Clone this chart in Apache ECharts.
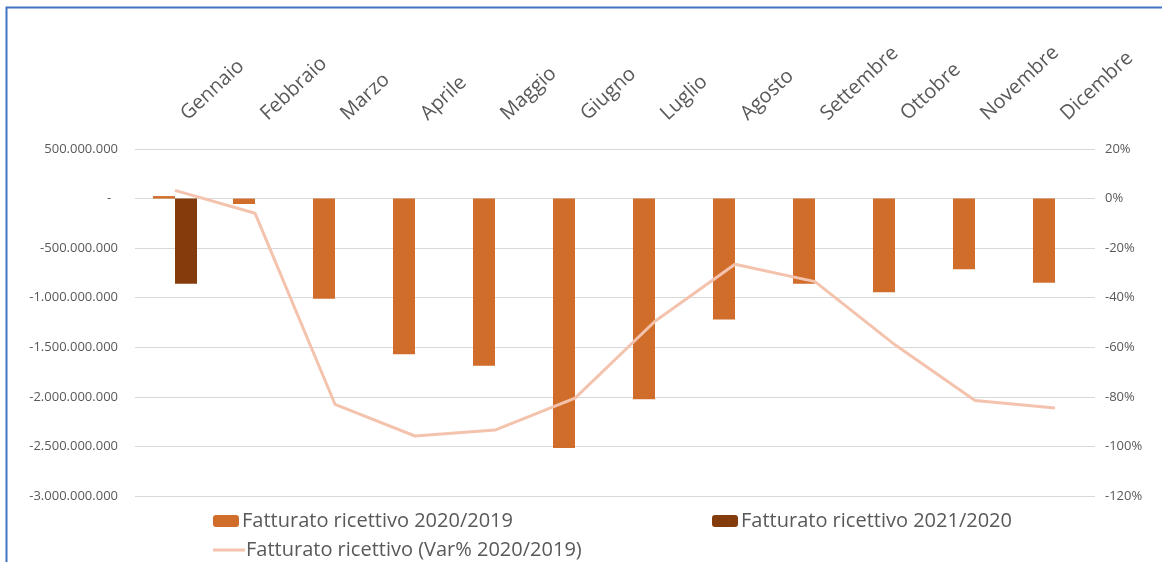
<!DOCTYPE html>
<html>
<head>
<meta charset="utf-8">
<script src="https://cdn.jsdelivr.net/npm/echarts@6/dist/echarts.min.js"></script>
<style>
html,body{margin:0;padding:0;background:#fff;}
#chart{width:1162px;height:562px;}
</style>
</head>
<body>
<div id="chart"></div>
<script>
const months = ['Gennaio','Febbraio','Marzo','Aprile','Maggio','Giugno','Luglio','Agosto','Settembre','Ottobre','Novembre','Dicembre'];
const fatt2020_2019 = [25e6, -55e6, -1010e6, -1570e6, -1685e6, -2515e6, -2025e6, -1220e6, -858e6, -945e6, -712e6, -848e6];
const fatt2021_2020 = [-860e6, null, null, null, null, null, null, null, null, null, null, null];
const varPct2020_2019 = [3.3, -5.9, -83, -95.8, -93.4, -80.5, -49.5, -26.5, -33.5, -59, -81.5, -84.5];
const seriesNames = ['Fatturato ricettivo 2020/2019', 'Fatturato ricettivo 2021/2020', 'Fatturato ricettivo (Var% 2020/2019)'];

const FONT = 'Open Sans';
const TXT = '#595959';

function fmtEuro(v) {
  if (v === 0) return '-  ';
  const s = Math.abs(v).toFixed(0).replace(/\B(?=(\d{3})+(?!\d))/g, '.');
  return (v < 0 ? '-' : '') + s;
}

const chart = echarts.init(document.getElementById('chart'), null, {renderer: 'canvas'});
chart.setOption({
  backgroundColor: '#ffffff',
  animation: false,
  textStyle: {fontFamily: FONT},
  graphic: [{
    type: 'rect', left: 4, top: 5, z: 100, silent: true,
    shape: {x: 0, y: 0, width: 1200, height: 600},
    style: {fill: 'none', stroke: '#4472C4', lineWidth: 2}
  }],
  grid: {left: 135, right: 67, top: 149, bottom: 66, containLabel: false},
  legend: [
    {data: [seriesNames[0]], left: 208, top: 506, itemWidth: 26, itemHeight: 12, itemGap: 4,
     textStyle: {color: TXT, fontSize: 20, fontFamily: FONT, padding: [0, 0, 0, -2]}},
    {data: [seriesNames[1]], left: 707, top: 506, itemWidth: 26, itemHeight: 12,
     textStyle: {color: TXT, fontSize: 20, fontFamily: FONT, padding: [0, 0, 0, -2]}},
    {data: [{name: seriesNames[2], icon: 'rect'}], left: 208, top: 535, itemWidth: 32, itemHeight: 3,
     textStyle: {color: TXT, fontSize: 20, fontFamily: FONT, padding: [0, 0, 0, -4]}}
  ],
  xAxis: {
    type: 'category', data: months, position: 'top',
    axisLine: {show: false}, axisTick: {show: false},
    axisLabel: {rotate: 43, interval: 0, margin: 24, color: TXT, fontSize: 20, fontFamily: FONT,
                padding: [0, 0, 0, 12]},
    splitLine: {show: false}
  },
  yAxis: [
    {type: 'value', min: -3000000000, max: 500000000, interval: 500000000,
     axisLine: {show: false}, axisTick: {show: false},
     axisLabel: {formatter: fmtEuro, color: TXT, fontSize: 13, margin: 17, fontFamily: FONT},
     splitLine: {lineStyle: {color: '#D9D9D9', width: 1}}},
    {type: 'value', min: -120, max: 20, interval: 20, position: 'right',
     axisLine: {show: false}, axisTick: {show: false},
     axisLabel: {formatter: v => v + '%', color: TXT, fontSize: 13, margin: 10, fontFamily: FONT},
     splitLine: {show: false}}
  ],
  series: [
    {name: seriesNames[0], type: 'bar', data: fatt2020_2019, barWidth: 22, barGap: '0%',
     itemStyle: {color: '#D06D2A'}, yAxisIndex: 0},
    {name: seriesNames[1], type: 'bar', data: fatt2021_2020, barWidth: 22, barGap: '0%',
     itemStyle: {color: '#843C0C'}, yAxisIndex: 0},
    {name: seriesNames[2], type: 'line', data: varPct2020_2019, yAxisIndex: 1,
     symbol: 'none', lineStyle: {color: '#F4C3AE', width: 3}, itemStyle: {color: '#F4C3AE'}, z: 5}
  ]
});
</script>
</body>
</html>
